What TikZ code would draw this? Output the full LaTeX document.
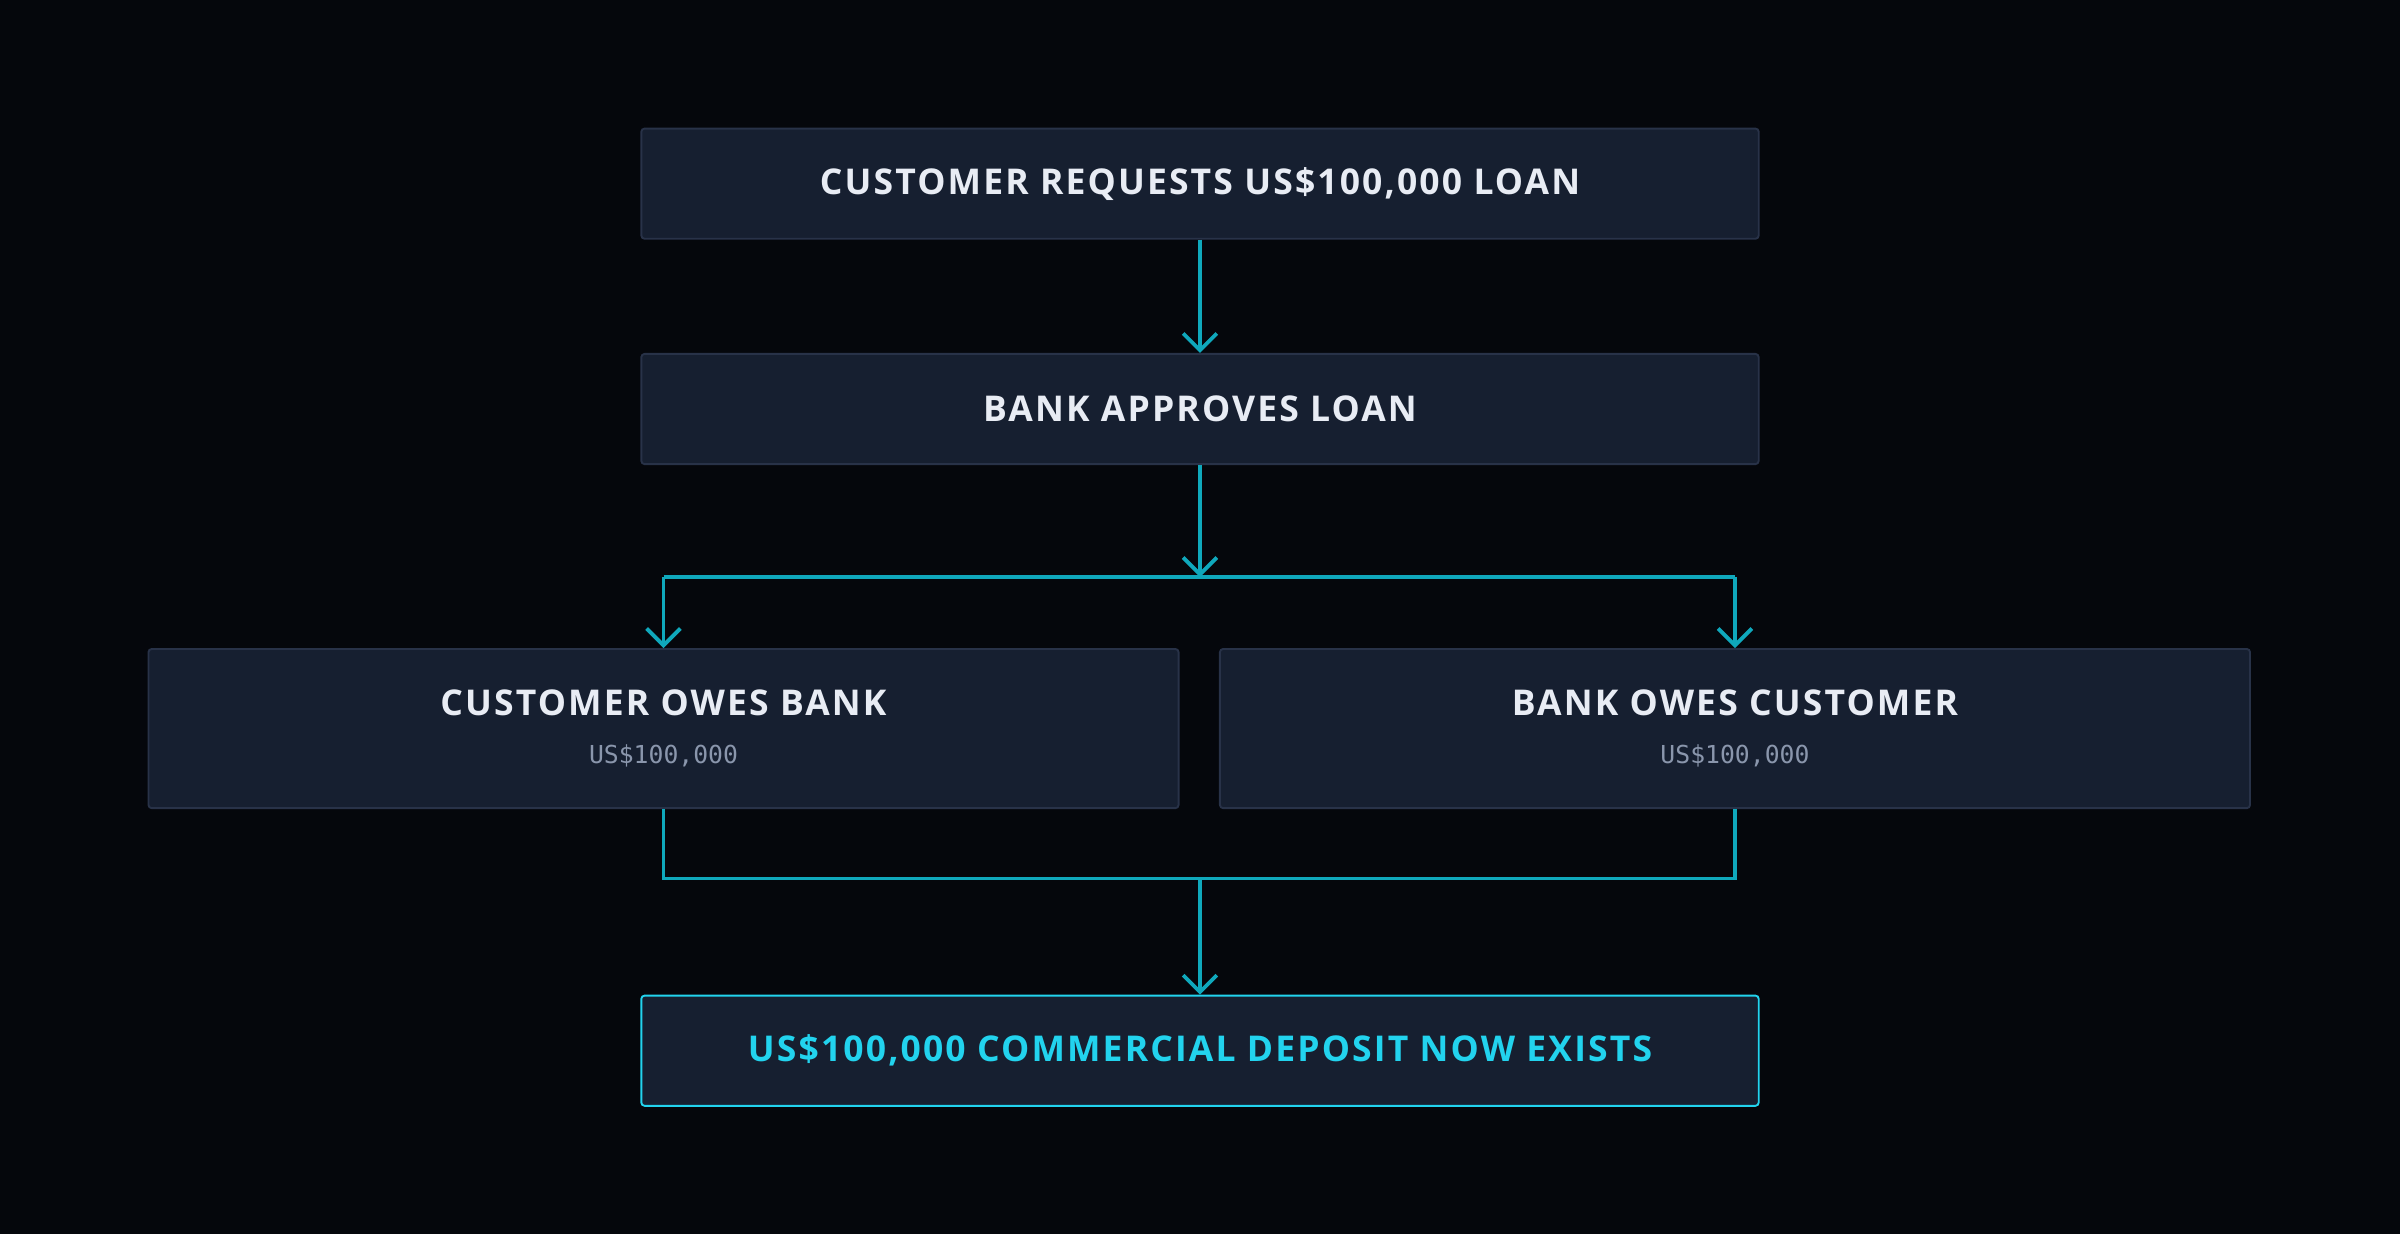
\documentclass[tikz,border=0pt]{standalone}
\usepackage{fontspec}
\setmainfont{Open Sans}
\newfontfamily\monofont{DejaVu Sans Mono}
\usetikzlibrary{positioning,arrows.meta}
\definecolor{bgcol}{HTML}{05070C}
\definecolor{boxcol}{HTML}{161F30}
\definecolor{edgecol}{HTML}{283248}
\definecolor{linkcol}{HTML}{0FA8BC}
\definecolor{cyancol}{HTML}{22D3EE}
\definecolor{titlecol}{HTML}{E8ECF4}
\definecolor{subcol}{HTML}{8A96AC}
\tikzset{
  flowbox/.style={draw=edgecol, fill=boxcol, rounded corners=0.6pt, line width=0.35pt,
    minimum width=7.3cm, minimum height=0.72cm, inner sep=0pt,
    text=titlecol, font=\fontsize{6.6}{7}\selectfont\bfseries\addfontfeature{LetterSpace=6}},
  halfbox/.style={flowbox, minimum width=6.73cm, minimum height=1.04cm, align=center},
  link/.style={draw=linkcol, line width=0.7pt},
  tip/.style={link, -{Straight Barb[length=1.1mm,width=2.2mm,line width=0.7pt]}}
}
\newcommand{\subamount}[1]{\\[2pt]{\monofont\mdseries\fontsize{4.6}{6}\selectfont\color{subcol}\addfontfeature{LetterSpace=0}#1}}
\begin{document}
\begin{tikzpicture}
  \fill[bgcol] (0,0) rectangle (15.68,-8.06);
  \useasboundingbox (0,0) rectangle (15.68,-8.06);
  % Nodes
  \node[flowbox] (request) at (7.84,-1.20) {CUSTOMER REQUESTS US\$100,000 LOAN};
  \node[flowbox, below=0.74cm of request] (approve) {BANK APPROVES LOAN};
  \node[halfbox] (owesbank) at (4.335,-4.76) {CUSTOMER OWES BANK\subamount{US\$100,000}};
  \node[halfbox] (owescust) at (11.335,-4.76) {BANK OWES CUSTOMER\subamount{US\$100,000}};
  \node[flowbox, draw=cyancol, text=cyancol, below=3.46cm of approve] (deposit) {US\$100,000 COMMERCIAL DEPOSIT NOW EXISTS};
  \coordinate (split) at (7.84,-3.77);
  \coordinate (join) at (7.84,-5.74);
  % Connect the nodes
  \draw[tip] (request) -- (approve);
  \draw[tip] (approve) -- (split);
  \draw[link] (owesbank.north |- split) -- (owescust.north |- split);
  \draw[tip] (owesbank.north |- split) -- (owesbank.north);
  \draw[tip] (owescust.north |- split) -- (owescust.north);
  \draw[link] (owesbank.south) -- (owesbank.south |- join) -- (owescust.south |- join) -- (owescust.south);
  \draw[tip] (join) -- (deposit);
\end{tikzpicture}
\end{document}
